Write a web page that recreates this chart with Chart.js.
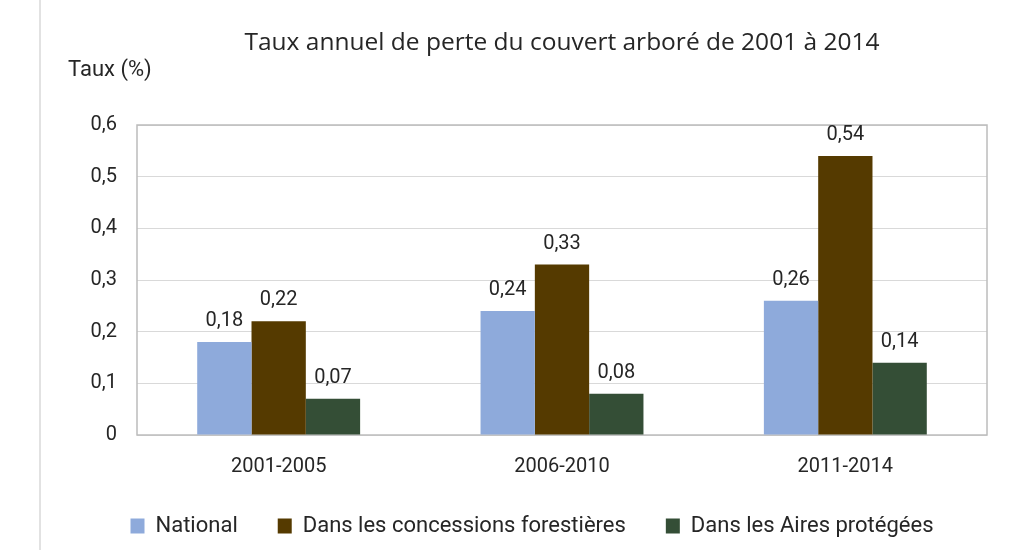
<!DOCTYPE html>
<html lang="fr">
<head>
<meta charset="utf-8">
<title>Taux annuel de perte du couvert arboré</title>
<script src="https://cdn.jsdelivr.net/npm/chart.js@4.4.1/dist/chart.umd.min.js"></script>
<style>
  html, body { margin: 0; padding: 0; background: #fff; }
  #wrap { position: relative; width: 1011px; height: 550px; }
  #bord { position: absolute; left: 39px; top: 0; width: 2px; height: 550px; background: #e2e2e2; }
  #chart { position: absolute; left: 0; top: 0; }
</style>
</head>
<body>
<div id="wrap">
  <div id="bord"></div>
  <canvas id="chart" width="1011" height="550"></canvas>
</div>
<script>
/* Taux annuel de perte du couvert arboré — 2001 à 2014 */

const periodes      = ['2001-2005', '2006-2010', '2011-2014'];
const national      = [0.18, 0.24, 0.26];
const concessions   = [0.22, 0.33, 0.54];
const airesProtegees = [0.07, 0.08, 0.14];
const yTicks        = [0, 0.1, 0.2, 0.3, 0.4, 0.5, 0.6];

const FONT = "Roboto, 'Open Sans', sans-serif";
const TXT  = '#262626';

const virgule = v => String(v).replace('.', ',');

// Cadre gris autour de la zone de tracé
const cadrePlugin = {
  id: 'cadre',
  beforeDatasetsDraw(chart) {
    const {ctx, chartArea: a} = chart;
    ctx.save();
    ctx.strokeStyle = '#bcbcbc';
    ctx.lineWidth = 1.5;
    ctx.strokeRect(a.left, a.top, a.right - a.left, a.bottom - a.top);
    ctx.restore();
  }
};

// Étiquettes de valeurs au-dessus des barres + titre de l'axe Y
const etiquettesPlugin = {
  id: 'etiquettes',
  afterDatasetsDraw(chart) {
    const ctx = chart.ctx;
    ctx.save();
    ctx.fillStyle = TXT;
    ctx.font = `20px ${FONT}`;
    ctx.textAlign = 'center';
    ctx.textBaseline = 'alphabetic';
    chart.data.datasets.forEach((ds, i) => {
      chart.getDatasetMeta(i).data.forEach((bar, j) => {
        ctx.fillText(virgule(ds.data[j]), bar.x, bar.y - 16);
      });
    });
    ctx.textAlign = 'left';
    ctx.font = `22px ${FONT}`;
    ctx.fillText('Taux (%)', 68, 76);
    ctx.restore();
  }
};

new Chart(document.getElementById('chart'), {
  type: 'bar',
  data: {
    labels: periodes,
    datasets: [
      { label: 'National', data: national, backgroundColor: '#8eaadb' },
      { label: 'Dans les concessions forestières', data: concessions, backgroundColor: '#553a00' },
      { label: 'Dans les Aires protégées', data: airesProtegees, backgroundColor: '#344e36' },
    ]
  },
  options: {
    responsive: false,
    animation: false,
    devicePixelRatio: 1,
    layout: { padding: { left: 77, right: 24, top: 0, bottom: 3 } },
    datasets: { bar: { categoryPercentage: 0.575, barPercentage: 1.0 } },
    plugins: {
      title: {
        display: true,
        text: 'Taux annuel de perte du couvert arboré de 2001 à 2014',
        fullSize: false,
        color: TXT,
        font: { family: "'Open Sans', Roboto, sans-serif", size: 24.5, weight: 'normal' },
        padding: { top: 28, bottom: 67.6 }
      },
      legend: {
        position: 'bottom',
        labels: {
          color: TXT,
          font: { family: FONT, size: 22 },
          boxWidth: 14,
          boxHeight: 15,
          padding: 40
        }
      },
      tooltip: { enabled: false }
    },
    scales: {
      x: {
        grid: { display: false },
        border: { display: false },
        ticks: { color: TXT, font: { family: FONT, size: 20 }, padding: 12 },
        afterFit(scale) { scale.height = 40; }
      },
      y: {
        min: 0,
        max: 0.6,
        afterBuildTicks(scale) { scale.ticks = yTicks.map(v => ({ value: v })); },
        grid: { color: '#d9d9d9', lineWidth: 1, drawTicks: false },
        border: { display: false },
        ticks: {
          color: TXT,
          font: { family: FONT, size: 20 },
          padding: 20,
          callback: v => v === 0 ? '0' : virgule(v.toFixed(1))
        },
        afterFit(scale) { scale.width = 60; }
      }
    }
  },
  plugins: [cadrePlugin, etiquettesPlugin]
});
</script>
</body>
</html>
